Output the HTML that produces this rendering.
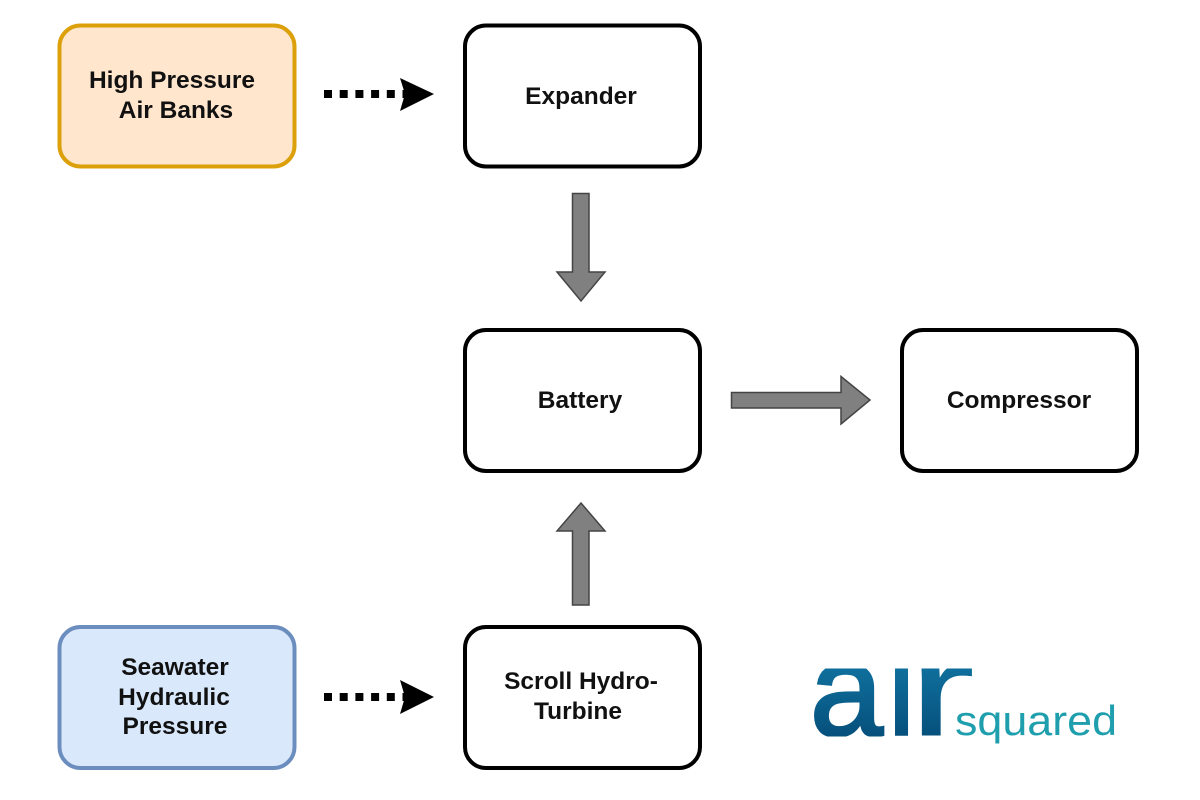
<!DOCTYPE html>
<html>
<head>
<meta charset="utf-8">
<style>
html,body{margin:0;padding:0;background:#fff;}
svg{display:block;}
.t{font-family:"Liberation Sans",sans-serif;font-weight:bold;font-size:24.5px;fill:#111;text-anchor:middle;}
.l{font-family:"Liberation Sans",sans-serif;font-size:131px;stroke:url(#g);fill:url(#g);}
</style>
</head>
<body>
<svg width="1200" height="800" viewBox="0 0 1200 800" xmlns="http://www.w3.org/2000/svg">
<defs>
<linearGradient id="g" gradientUnits="userSpaceOnUse" x1="0" y1="-67" x2="0" y2="1">
<stop offset="0" stop-color="#0f6f9c"/>
<stop offset="1" stop-color="#06507c"/>
</linearGradient>
<clipPath id="c"><rect x="800" y="668.5" width="190" height="68"/></clipPath>
</defs>
<rect x="59.5" y="25.5" width="235" height="141" rx="21" fill="#ffe6cc" stroke="#dba00a" stroke-width="4"/>
<rect x="465" y="25.5" width="235" height="141" rx="21" fill="#fff" stroke="#000" stroke-width="4"/>
<rect x="465" y="330" width="235" height="141" rx="21" fill="#fff" stroke="#000" stroke-width="4"/>
<rect x="902" y="330" width="235" height="141" rx="21" fill="#fff" stroke="#000" stroke-width="4"/>
<rect x="59.5" y="627" width="235" height="141" rx="21" fill="#dae8fc" stroke="#6c8ebf" stroke-width="4"/>
<rect x="465" y="627" width="235" height="141" rx="21" fill="#fff" stroke="#000" stroke-width="4"/>

<line x1="324" y1="94" x2="412" y2="94" stroke="#000" stroke-width="8" stroke-dasharray="8 7.7"/>
<polygon points="434,94 400,78 405,94 400,111" fill="#000"/>
<line x1="324" y1="697" x2="412" y2="697" stroke="#000" stroke-width="8" stroke-dasharray="8 7.7"/>
<polygon points="434,697 400,680 405,697 400,714" fill="#000"/>

<polygon points="572.5,193.5 589,193.5 589,272 605,272 581,301 557,272 572.5,272" fill="#808080" stroke="#444" stroke-width="1.5"/>
<polygon points="572.5,605 589,605 589,531 605,531 581,503 557,531 572.5,531" fill="#808080" stroke="#444" stroke-width="1.5"/>
<polygon points="731.5,392.5 841,392.5 841,376.5 870,400 841,424 841,408 731.5,408" fill="#808080" stroke="#444" stroke-width="1.5"/>

<text class="t" x="172" y="88">High Pressure</text>
<text class="t" x="176" y="118">Air Banks</text>
<text class="t" x="581" y="104">Expander</text>
<text class="t" x="580" y="408">Battery</text>
<text class="t" x="1019" y="408">Compressor</text>
<text class="t" x="175" y="675">Seawater</text>
<text class="t" x="174" y="705">Hydraulic</text>
<text class="t" x="175" y="734">Pressure</text>
<text class="t" x="581" y="689">Scroll Hydro-</text>
<text class="t" x="578" y="719">Turbine</text>

<g clip-path="url(#c)">
<text class="l" x="0" y="0" transform="translate(810 735)" stroke-width="3">a</text>
<text class="l" x="0" y="0" transform="translate(887 735)" stroke-width="1.5">i</text>
<text class="l" x="0" y="0" transform="translate(909 735) scale(1.5 1)" stroke-width="1">r</text>
</g>
<text x="955" y="735" font-family="'Liberation Sans',sans-serif" font-size="42" fill="#1f9fad" textLength="162" lengthAdjust="spacingAndGlyphs">squared</text>
</svg>
</body>
</html>
